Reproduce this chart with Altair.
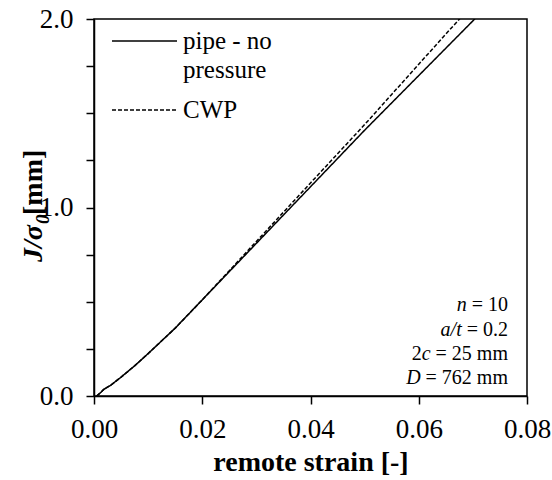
import altair as alt
import pandas as pd

# ---- data ----
pipe_strain = [0.0005, 0.0013, 0.0018, 0.003, 0.005, 0.0075, 0.010, 0.015, 0.020, 0.025,
               0.030, 0.035, 0.040, 0.045, 0.050, 0.055, 0.060, 0.065, 0.070, 0.0715]
pipe_J = [0.0, 0.02, 0.035, 0.055, 0.10, 0.16, 0.225, 0.36, 0.51, 0.66,
          0.81, 0.96, 1.11, 1.26, 1.41, 1.555, 1.70, 1.845, 1.99, 2.035]

cwp_strain = [0.0005, 0.0013, 0.0018, 0.003, 0.005, 0.0075, 0.010, 0.015, 0.020, 0.025,
              0.030, 0.035, 0.040, 0.045, 0.050, 0.055, 0.060, 0.065, 0.068]
cwp_J = [0.0, 0.02, 0.035, 0.055, 0.10, 0.16, 0.225, 0.36, 0.51, 0.665,
         0.82, 0.975, 1.13, 1.285, 1.44, 1.60, 1.76, 1.92, 2.015]

series_names = ["pipe - no pressure", "CWP"]
x_ticks = [0.0, 0.02, 0.04, 0.06, 0.08]
y_ticks = [0.0, 0.25, 0.5, 0.75, 1.0, 1.25, 1.5, 1.75, 2.0]

FONT = "Liberation Serif"

df = pd.concat([
    pd.DataFrame({"strain": pipe_strain, "J": pipe_J, "series": series_names[0], "order": range(len(pipe_J))}),
    pd.DataFrame({"strain": cwp_strain, "J": cwp_J, "series": series_names[1], "order": range(len(cwp_J))}),
])

W, H = 433, 377

lines = alt.Chart(df).mark_line(clip=True, color="black", strokeWidth=1.5).encode(
    x=alt.X("strain:Q",
            scale=alt.Scale(domain=[0, 0.08], nice=False),
            axis=alt.Axis(values=x_ticks, format=".2f", title="remote strain [-]",
                          labelFont=FONT, labelFontSize=27, labelPadding=12, labelFlush=False,
                          titleFont=FONT, titleFontWeight="bold", titleFontSize=28, titlePadding=6)),
    y=alt.Y("J:Q",
            scale=alt.Scale(domain=[0, 2], nice=False),
            axis=alt.Axis(values=y_ticks, title=None, labelFont=FONT, labelFontSize=27,
                          labelPadding=13, labelFlush=False,
                          labelExpr="datum.value % 1 == 0 ? format(datum.value, '.1f') : ''")),
    strokeDash=alt.StrokeDash("series:N",
                              scale=alt.Scale(domain=series_names, range=[[1, 0], [4, 2]]),
                              legend=None),
    detail="series:N",
    order="order:Q",
)

def txt(s, x, y, size=20, style="normal", weight="normal", align="left", baseline="middle", angle=0):
    return alt.Chart(pd.DataFrame({"t": [s]})).mark_text(
        font=FONT, fontSize=size, fontStyle=style, fontWeight=weight,
        align=align, baseline=baseline, angle=angle, color="black",
    ).encode(text="t:N", x=alt.value(x), y=alt.value(y))

# legend (manual)
leg_solid = alt.Chart(pd.DataFrame({"s": [series_names[0]]})).mark_rule(color="black", strokeWidth=1.5).encode(
    x=alt.value(18), x2=alt.value(83), y=alt.value(22))
leg_dash = alt.Chart(pd.DataFrame({"s": [series_names[1]]})).mark_rule(color="black", strokeWidth=1.5,
                                                                       strokeDash=[4, 2]).encode(
    x=alt.value(18), x2=alt.value(83), y=alt.value(91))
leg_t1 = txt("pipe - no", 89, 22, size=25)
leg_t2 = txt("pressure", 89, 51, size=25)
leg_t3 = txt("CWP", 89, 91, size=25)

# annotation with mixed italics (Times metrics, em units)
em = {" ": 0.25, "=": 0.564, "0": 0.5, "1": 0.5, "2": 0.5, "5": 0.5, "6": 0.5, "7": 0.5,
      ".": 0.25, "m": 0.778, "c": 0.444}
def width(s, size=20):
    return sum(em.get(ch, 0.5) for ch in s) * size

RX = 414
ann = []
rows = [
    ([("n", "italic"), (" = 10", "normal")], 286),
    ([("a/t", "italic"), (" = 0.2", "normal")], 311),
    ([("2", "normal"), ("c", "italic"), (" = 25 mm", "normal")], 335),
    ([("D", "italic"), (" = 762 mm", "normal")], 359),
]
for parts, yy in rows:
    x_right = RX
    for s, st in reversed(parts):
        ann.append(txt(s, x_right, yy, size=20, style=st, align="right"))
        x_right -= width(s)

# y-axis title pieces (rotated)
YX = -60
ytitle = [
    txt("J/σ", YX, 243, size=28, style="italic", weight="bold", align="left", baseline="middle", angle=270),
    txt("0", YX + 9, 205, size=19, style="italic", weight="bold", align="left", baseline="middle", angle=270),
    txt(" [mm]", YX, 196, size=28, weight="bold", align="left", baseline="middle", angle=270),
]

chart = alt.layer(lines, leg_solid, leg_dash, leg_t1, leg_t2, leg_t3, *ann, *ytitle).properties(
    width=W, height=H,
    autosize=alt.AutoSizeParams(type="none"),
    padding={"left": 94, "top": 19, "right": 25, "bottom": 84},
).configure_view(stroke="black", strokeWidth=1.5).configure_axis(
    labelFont=FONT, titleFont=FONT, labelColor="black", titleColor="black",
    tickColor="black", domainColor="black", domainWidth=1.5, tickWidth=1.5, tickSize=8,
    grid=False,
)

chart.save("out.html", embed_options={"renderer": "svg", "actions": False})
